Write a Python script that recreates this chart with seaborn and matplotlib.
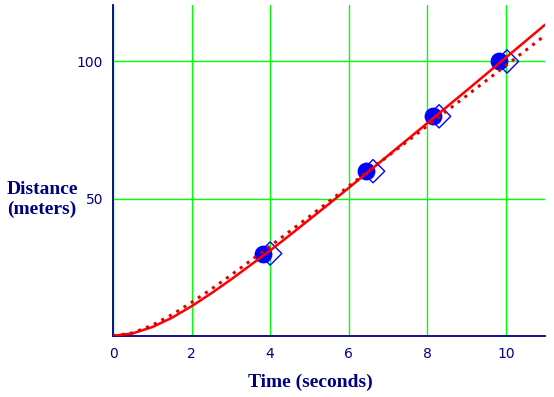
import matplotlib
matplotlib.use("Agg")
import matplotlib.pyplot as plt
import seaborn as sns
import pandas as pd

# measured points (circles) and second set (open diamonds)
circle_t = [3.83, 6.45, 8.15, 9.83]
circle_d = [30, 60, 80, 100]
diamond_t = [4.0, 6.62, 8.30, 10.03]
diamond_d = [30, 60, 80, 100]

# fitted curves
curve_t = [0, 0.5, 1, 1.5, 2, 2.5, 3, 3.5, 4, 4.5, 5, 5.5, 6, 6.5, 7, 7.5,
           8, 8.5, 9, 9.5, 10, 10.5, 11]
solid_d = [0, 0.9, 3.2, 6.6, 10.8, 15.5, 20.5, 25.8, 31.1, 36.7, 42.4, 48.1,
           53.9, 59.8, 65.7, 71.6, 77.5, 83.5, 89.4, 95.4, 101.4, 107.4, 113.4]
dotted_d = [0, 1.1, 3.9, 7.7, 12.2, 17.0, 22.1, 27.4, 32.7, 38.1, 43.5, 49.0,
            54.5, 60.0, 65.5, 71.0, 76.5, 82.0, 87.5, 93.0, 98.5, 104.0, 109.5]

xticks = [0, 2, 4, 6, 8, 10]
yticks = [50, 100]

navy = "#000080"
green = "#00FF00"

sns.set_style("white")

fig = plt.figure(figsize=(5.54, 3.97), dpi=100)
ax = fig.add_axes([0.204, 0.154, 0.78, 0.833])

curves = pd.DataFrame({"t": curve_t, "solid": solid_d, "dotted": dotted_d})

ax.set_xlim(0, 11)
ax.set_ylim(0, 120.5)
ax.set_xticks(xticks)
ax.set_yticks(yticks)
ax.grid(True, color=green, linewidth=1.0)
ax.set_axisbelow(True)

sns.scatterplot(x=diamond_t, y=diamond_d, marker="D", s=140, facecolor="none",
                edgecolor="#0000FF", linewidth=1.0, ax=ax, zorder=3)
sns.scatterplot(x=circle_t, y=circle_d, marker="o", s=165, color="#0000FF",
                edgecolor="#0000FF", linewidth=0, ax=ax, zorder=4)
sns.lineplot(data=curves, x="t", y="solid", color="#FF0000", linewidth=1.8,
             ax=ax, zorder=5)
sns.lineplot(data=curves, x="t", y="dotted", color="#E00000", linewidth=2.2,
             linestyle=(0, (1, 1.8)), ax=ax, zorder=5)

for side in ["top", "right"]:
    ax.spines[side].set_visible(False)
for side in ["left", "bottom"]:
    ax.spines[side].set_color(navy)
    ax.spines[side].set_linewidth(1.3)

ax.tick_params(length=0, colors=navy, labelsize=10)
ax.tick_params(axis="x", pad=8)
ax.tick_params(axis="y", pad=7)
ax.set_xlabel("")
ax.set_ylabel("")

fig.text(0.56, 0.038, "Time (seconds)", ha="center", va="center",
         family="Liberation Serif", fontweight="bold", fontsize=14, color=navy)
fig.text(0.012, 0.497, "Distance\n(meters)", ha="left", va="center",
         family="Liberation Serif", fontweight="bold", fontsize=14, color=navy,
         linespacing=1.2)

fig.savefig("out.png", dpi=100)
